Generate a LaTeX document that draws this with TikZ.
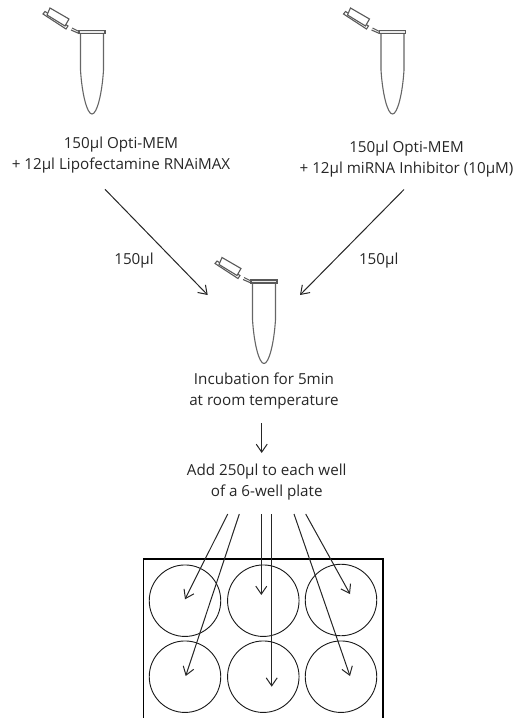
\documentclass[tikz,border=0pt]{standalone}
\usepackage{fontspec}
\setmainfont{Open Sans}
\usetikzlibrary{arrows.meta}
\tikzset{
  label/.style={font=\fontsize{15.2}{21}\selectfont,align=center,text=black!85,inner sep=0pt},
  well/.style={draw=black!90,circle,minimum size=71.5pt,inner sep=0pt,line width=0.9pt},
  go/.style={-{Straight Barb[length=8pt,width=11pt]},line width=1pt,black!85},
  tube/.pic={
    \draw[black!60,line width=1.1pt] (-11.5,1.5) -- (-11.5,38) .. controls (-10,62) and (-5,82) .. (0,82)
      .. controls (5,82) and (10,62) .. (11.5,38) -- (11.5,1.5);
    \draw[black!65,line width=1.1pt,fill=black!8] (-13,-1.5) rectangle (13,1.5);
    \draw[black!65,line width=1.1pt] (-13,-0.5) -- (-20,-4) (-13,1.5) -- (-21,-2);
    \draw[black!65,line width=1.1pt] (-49,-18) -- (-47,-20.5) -- (-24,-6) -- (-26,-3) -- cycle;
    \draw[black!65,line width=1.1pt,fill=white] (-42,-24) -- (-23,-13) -- (-27,-6) -- (-45,-17) -- cycle;
  }
}
\begin{document}
\begin{tikzpicture}[x=1pt,y=-1pt]
  \useasboundingbox (0,0) rectangle (516,718);

  \pic at (92,32) {tube};
  \pic at (392.5,32) {tube};
  \pic at (264,281.5) {tube};

  \node[label] (mixA) at (121,155) {150µl Opti-MEM\\+ 12µl Lipofectamine RNAiMAX};
  \node[label] (mixB) at (406.5,159.5) {150µl Opti-MEM\\+ 12µl miRNA Inhibitor (10µM)};
  \node[label] (volA) at (134,261) {150µl};
  \node[label] (volB) at (378.7,261) {150µl};
  \node[label] (incub) at (264,391.5) {Incubation for 5min\\at room temperature};
  \node[label] (add) at (266.7,482.5) {Add 250µl to each well\\of a 6-well plate};

  \coordinate (fromA) at (105,189.3);
  \coordinate (fromB) at (404,189.5);
  \coordinate (tubeC) at (207.7,295);
  \coordinate (tubeD) at (300,295);
  \draw[go] (fromA) -- (tubeC);
  \draw[go] (fromB) -- (tubeD);
  \draw[go] (261.7,423) -- (261.7,453);

  \draw[line width=1.2pt] (143.5,718) -- (143.5,559) -- (383,559) -- (383,718);

  \node[well] (wellA) at (185,600.7) {};
  \node[well] (wellB) at (263.3,600.7) {};
  \node[well] (wellC) at (341,600) {};
  \node[well] (wellD) at (185,676.7) {};
  \node[well] (wellE) at (263.3,676.7) {};
  \node[well] (wellF) at (341,676.7) {};

  \draw[go] (227.7,514) -- (185,599.3);
  \draw[go] (239.3,514) -- (185.7,676);
  \draw[go] (261.3,514) -- (261.3,595);
  \draw[go] (271.7,514) -- (271.7,686.7);
  \draw[go] (294,514) -- (350,676);
  \draw[go] (305.7,514) -- (350,594);
\end{tikzpicture}
\end{document}
